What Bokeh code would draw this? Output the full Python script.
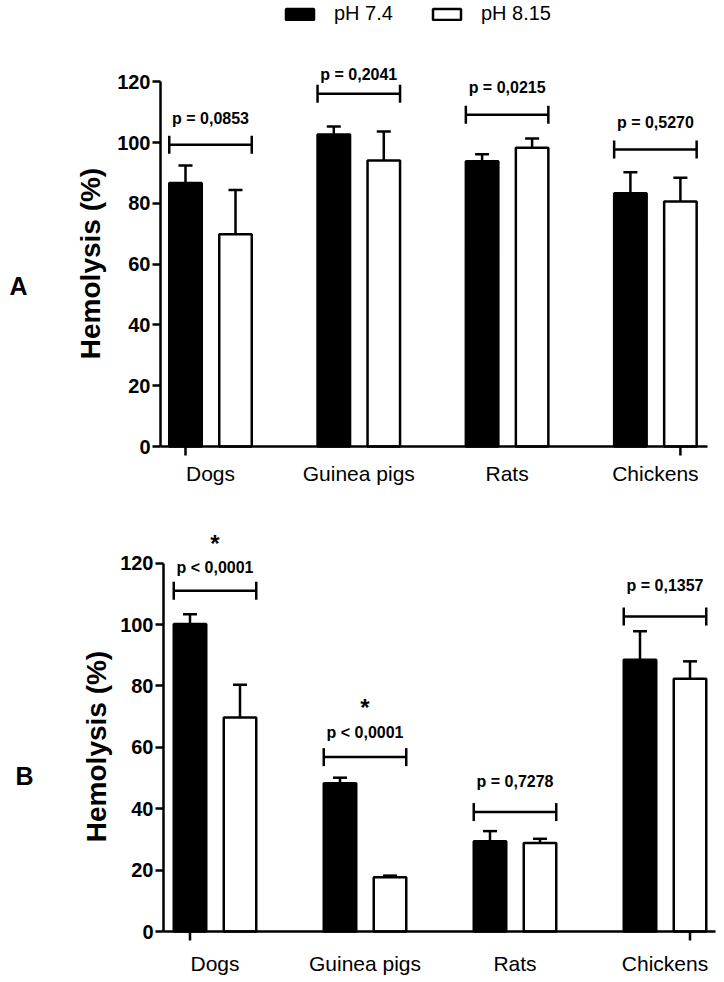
import numpy as np
from bokeh.plotting import figure
from bokeh.models import (Range1d, LinearAxis, FixedTicker, Legend, LegendItem)
from bokeh.layouts import column
from bokeh.embed import file_html
from bokeh.resources import INLINE
from bokeh.core.properties import value

species = ["Dogs", "Guinea pigs", "Rats", "Chickens"]
series = ["pH 7.4", "pH 8.15"]
y_ticks = [0, 20, 40, 60, 80, 100, 120]
y_title = "Hemolysis (%)"

# Panel A
a_ph74 = [86.7, 102.6, 93.8, 83.3]
a_ph74_err = [5.7, 2.7, 2.3, 6.9]
a_ph815 = [69.8, 94.1, 98.3, 80.6]
a_ph815_err = [14.6, 9.5, 3.0, 7.8]
a_pvalues = ["p = 0,0853", "p = 0,2041", "p = 0,0215", "p = 0,5270"]
a_bracket_y = [99.3, 116.0, 109.1, 97.7]
a_pvalue_y = [108.0, 122.4, 118.2, 106.7]
a_star_idx = []
a_star_y = []

# Panel B
b_ph74 = [100.2, 48.3, 29.4, 88.5]
b_ph74_err = [3.1, 1.8, 3.3, 9.3]
b_ph815 = [69.7, 17.7, 28.8, 82.3]
b_ph815_err = [10.7, 0.5, 1.4, 5.7]
b_pvalues = ["p < 0,0001", "p < 0,0001", "p = 0,7278", "p = 0,1357"]
b_bracket_y = [111.0, 56.8, 38.9, 102.6]
b_pvalue_y = [118.7, 64.9, 49.0, 112.7]
b_star_idx = [0, 1]
b_star_y = [126.4, 73.1]

FONT = "Liberation Sans"
LW = 2.5
WIDTH = 724


def make_panel(letter, v1, e1, v2, e2, pvals, br_y, pv_y, st_idx, st_y,
               height, zero_px, px_unit, group0_px, px_per_group, axis_px, axis_end_px,
               letter_pos, ylab_pos, label_standoff, with_legend=False):
    # layout: the frame covers the whole figure; axes are placed at fixed locations
    x_start = -group0_px / px_per_group
    x_end = x_start + WIDTH / px_per_group
    y_start = -(height - zero_px) / px_unit
    y_end = zero_px / px_unit
    p = figure(width=WIDTH, height=height,
               x_range=Range1d(x_start, x_end), y_range=Range1d(y_start, y_end),
               x_axis_type=None, y_axis_type=None,
               output_backend="svg", toolbar_location=None,
               min_border=0)
    p.outline_line_color = None

    def dx(px):
        return (px - group0_px) / px_per_group

    def dy(py):
        return (zero_px - py) / px_unit

    off = 25.0 / px_per_group
    w = 32.5 / px_per_group
    cap = 7.0 / px_per_group
    bcap = 9.0 / px_unit
    idx = np.arange(len(species))
    x1 = idx - off
    x2 = idx + off
    v1 = np.array(v1); v2 = np.array(v2)
    t1 = v1 + np.array(e1); t2 = v2 + np.array(e2)

    # error bars (upper only)
    for xx, v, t in ((x1, v1, t1), (x2, v2, t2)):
        p.segment(x0=xx, y0=v, x1=xx, y1=t, line_color="black", line_width=LW)
        p.segment(x0=xx - cap, y0=t, x1=xx + cap, y1=t, line_color="black", line_width=LW)

    r1 = p.vbar(x=x1, top=v1, bottom=0, width=w, fill_color="black",
                line_color="black", line_width=LW)
    r2 = p.vbar(x=x2, top=v2, bottom=0, width=w, fill_color="white",
                line_color="black", line_width=LW)

    # significance brackets
    bx0 = idx - off - w / 2
    bx1 = idx + off + w / 2
    by = np.array(br_y)
    p.segment(x0=bx0, y0=by, x1=bx1, y1=by, line_color="black", line_width=LW)
    p.segment(x0=bx0, y0=by - bcap, x1=bx0, y1=by + bcap, line_color="black", line_width=LW)
    p.segment(x0=bx1, y0=by - bcap, x1=bx1, y1=by + bcap, line_color="black", line_width=LW)
    p.text(x=idx, y=pv_y, text=pvals, text_align="center", text_baseline="middle",
           text_font=value(FONT), text_font_style="bold", text_font_size="16px",
           text_color="black")
    if st_idx:
        p.text(x=np.array(st_idx, dtype=float), y=st_y, text=["*"] * len(st_idx),
               text_align="center", text_baseline="middle",
               text_font=value(FONT), text_font_style="bold", text_font_size="24px",
               text_color="black")

    # y axis
    ya = LinearAxis(bounds=(0, 120), ticker=FixedTicker(ticks=y_ticks),
                    fixed_location=dx(axis_px),
                    axis_line_width=LW, major_tick_line_width=LW,
                    major_tick_out=8, major_tick_in=0,
                    minor_tick_line_color=None,
                    major_label_text_color="black",
                    major_label_text_font=FONT, major_label_text_font_style="bold",
                    major_label_text_font_size="20px", major_label_standoff=2)
    p.add_layout(ya, "left")

    # x axis: line + category labels at group centres
    xa = LinearAxis(ticker=FixedTicker(ticks=list(range(len(species)))),
                    major_label_overrides={i: s for i, s in enumerate(species)},
                    fixed_location=0, bounds=(dx(axis_px), dx(axis_end_px)),
                    axis_line_width=LW, major_tick_line_color=None,
                    major_tick_out=0, major_tick_in=0, minor_tick_line_color=None,
                    major_label_text_color="black",
                    major_label_text_font=FONT, major_label_text_font_size="21px",
                    major_label_standoff=label_standoff)
    p.add_layout(xa, "below")
    # the two end tick marks (under the first and last bar)
    tick_len = 9.0 / px_unit
    p.segment(x0=[x1[0], x2[-1]], y0=[0, 0], x1=[x1[0], x2[-1]], y1=[-tick_len, -tick_len],
              line_color="black", line_width=LW)

    # panel letter and y title
    p.text(x=[dx(letter_pos[0])], y=[dy(letter_pos[1])], text=[letter],
           text_align="center", text_baseline="middle", text_font=value(FONT),
           text_font_style="bold", text_font_size="25px", text_color="black")
    p.text(x=[dx(ylab_pos[0])], y=[dy(ylab_pos[1])], text=[y_title], angle=np.pi / 2,
           text_align="center", text_baseline="middle", text_font=value(FONT),
           text_font_style="bold", text_font_size="28px", text_color="black")

    if with_legend:
        leg = Legend(items=[LegendItem(label=series[0], renderers=[r1]),
                            LegendItem(label=series[1], renderers=[r2])],
                     location=(282, height - 25), orientation="horizontal",
                     border_line_color=None, background_fill_alpha=0,
                     padding=0, margin=0, spacing=36, glyph_width=35, glyph_height=14,
                     label_standoff=17, label_text_font=FONT, label_text_font_size="20px",
                     label_text_color="black")
        p.add_layout(leg, "center")
    return p


pA = make_panel("A", a_ph74, a_ph74_err, a_ph815, a_ph815_err, a_pvalues,
                a_bracket_y, a_pvalue_y, a_star_idx, a_star_y,
                height=488, zero_px=446, px_unit=3.04, group0_px=210, px_per_group=148.3,
                axis_px=160, axis_end_px=707, letter_pos=(18, 285), ylab_pos=(90, 263),
                label_standoff=15, with_legend=True)

pB = make_panel("B", b_ph74, b_ph74_err, b_ph815, b_ph815_err, b_pvalues,
                b_bracket_y, b_pvalue_y, b_star_idx, b_star_y,
                height=490, zero_px=931 - 488, px_unit=3.07, group0_px=214.5, px_per_group=150.0,
                axis_px=163, axis_end_px=715, letter_pos=(24, 775 - 488), ylab_pos=(96, 746 - 488),
                label_standoff=20)

layout = column(pA, pB, spacing=0)
open("out.html", "w").write(file_html(layout, INLINE))
